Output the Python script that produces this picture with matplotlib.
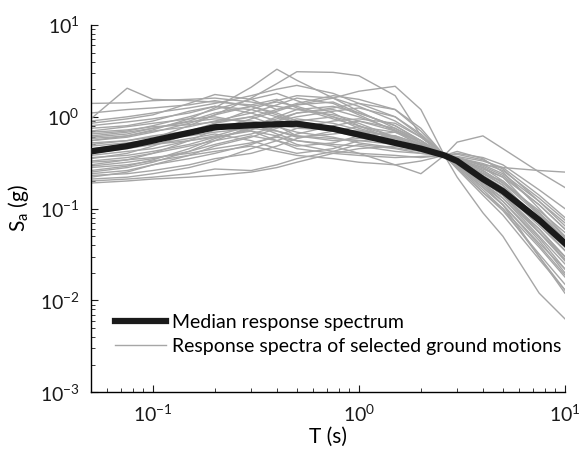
"""
    plot.py
    Response spectra of selected ground motions with their median,
    drawn on log-log axes.
"""

import numpy as np
import matplotlib
matplotlib.use("Agg")
import matplotlib.pyplot as plt

# Periods (s) where every spectrum has a vertex.
periods = [0.05, 0.075, 0.1, 0.15, 0.2, 0.3, 0.4, 0.5, 0.75, 1.0,
           1.5, 2.0, 2.6, 3.0, 4.0, 5.0, 7.5, 10.0]

# Median spectrum, Sa (g).
median_sa = [0.42, 0.48, 0.55, 0.67, 0.77, 0.81, 0.83, 0.84, 0.74, 0.64,
             0.52, 0.45, 0.38, 0.33, 0.21, 0.155, 0.075, 0.042]

# Spectra of the selected ground motions, Sa (g), one row per record.
record_sa = [
    [1.40, 1.42, 1.50, 1.55, 1.60, 1.45, 1.30, 1.20, 1.05, 0.90, 0.70, 0.52, 0.38, 0.30, 0.19, 0.13, 0.055, 0.028],
    [0.95, 2.05, 1.55, 1.50, 1.45, 1.35, 1.55, 1.25, 0.95, 0.80, 0.60, 0.47, 0.38, 0.34, 0.26, 0.19, 0.095, 0.055],
    [0.55, 0.62, 0.72, 0.95, 1.25, 2.10, 3.30, 2.50, 1.60, 1.15, 0.75, 0.52, 0.38, 0.31, 0.19, 0.12, 0.048, 0.022],
    [0.42, 0.48, 0.58, 0.80, 1.05, 1.60, 2.30, 3.10, 3.05, 2.80, 1.70, 0.62, 0.38, 0.36, 0.31, 0.26, 0.13, 0.075],
    [0.30, 0.34, 0.40, 0.55, 0.72, 0.95, 1.15, 1.35, 1.60, 1.90, 2.15, 1.20, 0.38, 0.53, 0.62, 0.45, 0.25, 0.17],
    [0.85, 0.95, 1.05, 1.40, 1.75, 1.55, 1.20, 1.35, 1.45, 1.10, 0.80, 0.55, 0.38, 0.28, 0.15, 0.10, 0.030, 0.012],
    [0.19, 0.20, 0.21, 0.22, 0.23, 0.25, 0.28, 0.32, 0.40, 0.45, 0.48, 0.44, 0.38, 0.35, 0.30, 0.28, 0.26, 0.25],
    [0.20, 0.21, 0.22, 0.24, 0.27, 0.26, 0.30, 0.35, 0.42, 0.50, 0.45, 0.40, 0.38, 0.32, 0.20, 0.14, 0.055, 0.030],
    [0.22, 0.25, 0.30, 0.38, 0.48, 0.60, 0.75, 0.90, 1.00, 0.85, 0.60, 0.45, 0.38, 0.31, 0.18, 0.11, 0.030, 0.013],
    [0.25, 0.28, 0.32, 0.42, 0.55, 0.78, 1.00, 1.20, 1.30, 1.10, 0.80, 0.55, 0.38, 0.22, 0.09, 0.05, 0.012, 0.0063],
    [0.60, 0.65, 0.75, 0.90, 1.10, 1.30, 1.10, 0.90, 0.75, 0.65, 0.55, 0.45, 0.38, 0.32, 0.22, 0.16, 0.070, 0.035],
    [0.70, 0.78, 0.85, 0.95, 1.00, 0.85, 0.65, 0.55, 0.50, 0.48, 0.42, 0.40, 0.38, 0.34, 0.27, 0.22, 0.11, 0.060],
    [0.35, 0.40, 0.48, 0.65, 0.85, 1.20, 1.50, 1.70, 1.60, 1.30, 0.90, 0.60, 0.38, 0.29, 0.16, 0.10, 0.038, 0.018],
    [0.50, 0.55, 0.62, 0.70, 0.78, 0.70, 0.55, 0.45, 0.40, 0.38, 0.36, 0.37, 0.38, 0.36, 0.30, 0.24, 0.12, 0.070],
    [0.28, 0.30, 0.33, 0.38, 0.42, 0.48, 0.42, 0.38, 0.35, 0.32, 0.30, 0.33, 0.38, 0.40, 0.36, 0.30, 0.16, 0.10],
    [0.45, 0.50, 0.55, 0.70, 0.85, 1.00, 0.80, 0.62, 0.55, 0.58, 0.62, 0.50, 0.38, 0.33, 0.24, 0.20, 0.090, 0.045],
    [0.65, 0.70, 0.80, 1.00, 1.20, 1.55, 1.80, 1.50, 1.10, 0.80, 0.55, 0.42, 0.38, 0.32, 0.21, 0.14, 0.060, 0.030],
    [0.38, 0.42, 0.45, 0.55, 0.62, 0.80, 0.95, 1.10, 1.25, 1.40, 1.20, 0.70, 0.38, 0.34, 0.28, 0.22, 0.085, 0.040],
    [0.32, 0.34, 0.36, 0.40, 0.45, 0.52, 0.60, 0.55, 0.48, 0.40, 0.30, 0.24, 0.38, 0.42, 0.35, 0.25, 0.10, 0.050],
    [0.55, 0.60, 0.68, 0.85, 1.05, 1.30, 1.45, 1.30, 1.00, 0.75, 0.58, 0.48, 0.38, 0.30, 0.18, 0.12, 0.045, 0.020],
    [0.80, 0.88, 0.95, 1.10, 1.30, 1.20, 1.00, 0.85, 0.70, 0.60, 0.50, 0.45, 0.38, 0.33, 0.25, 0.18, 0.075, 0.040],
    [0.40, 0.45, 0.50, 0.58, 0.65, 0.55, 0.45, 0.40, 0.45, 0.55, 0.58, 0.48, 0.38, 0.31, 0.20, 0.15, 0.065, 0.035],
    [0.26, 0.29, 0.34, 0.45, 0.58, 0.75, 0.70, 0.60, 0.65, 0.70, 0.55, 0.45, 0.38, 0.35, 0.28, 0.20, 0.090, 0.050],
    [0.58, 0.62, 0.70, 0.78, 0.90, 1.10, 1.35, 1.60, 1.40, 1.05, 0.70, 0.48, 0.38, 0.29, 0.17, 0.11, 0.042, 0.022],
    [0.21, 0.22, 0.24, 0.28, 0.33, 0.45, 0.55, 0.65, 0.80, 0.90, 0.75, 0.55, 0.38, 0.30, 0.20, 0.14, 0.060, 0.030],
    [0.48, 0.52, 0.56, 0.62, 0.68, 0.75, 0.85, 0.95, 0.85, 0.72, 0.60, 0.48, 0.38, 0.33, 0.23, 0.17, 0.080, 0.045],
    [0.33, 0.36, 0.40, 0.48, 0.55, 0.65, 0.78, 0.68, 0.60, 0.52, 0.46, 0.42, 0.38, 0.34, 0.26, 0.19, 0.085, 0.048],
    [0.90, 1.00, 1.10, 1.25, 1.40, 1.70, 2.00, 2.20, 1.80, 1.40, 1.00, 0.65, 0.38, 0.27, 0.14, 0.085, 0.028, 0.013],
    [0.24, 0.26, 0.30, 0.35, 0.40, 0.50, 0.62, 0.75, 0.90, 0.95, 0.85, 0.60, 0.38, 0.37, 0.33, 0.28, 0.14, 0.080],
    [0.36, 0.38, 0.42, 0.50, 0.60, 0.70, 0.62, 0.50, 0.42, 0.40, 0.38, 0.36, 0.38, 0.39, 0.34, 0.27, 0.12, 0.065],
    [0.62, 0.68, 0.75, 0.88, 0.95, 0.90, 0.82, 0.75, 0.72, 0.70, 0.62, 0.50, 0.38, 0.30, 0.19, 0.13, 0.050, 0.025],
    [0.44, 0.46, 0.50, 0.55, 0.60, 0.72, 0.90, 1.10, 1.20, 1.00, 0.72, 0.52, 0.38, 0.31, 0.22, 0.16, 0.070, 0.038],
    [0.29, 0.32, 0.35, 0.42, 0.50, 0.62, 0.55, 0.48, 0.52, 0.62, 0.68, 0.55, 0.38, 0.32, 0.21, 0.15, 0.055, 0.028],
    [0.75, 0.80, 0.90, 1.15, 1.30, 1.10, 0.90, 1.00, 1.15, 1.25, 1.00, 0.62, 0.38, 0.30, 0.17, 0.11, 0.040, 0.019],
    [0.52, 0.55, 0.60, 0.65, 0.72, 0.82, 0.70, 0.62, 0.58, 0.55, 0.50, 0.42, 0.38, 0.36, 0.29, 0.23, 0.11, 0.060],
    [1.10, 1.20, 1.25, 1.35, 1.50, 1.30, 1.05, 0.85, 0.75, 0.68, 0.55, 0.45, 0.38, 0.31, 0.20, 0.14, 0.055, 0.027],
    [0.23, 0.24, 0.26, 0.30, 0.35, 0.40, 0.48, 0.58, 0.70, 0.78, 0.68, 0.50, 0.38, 0.33, 0.24, 0.18, 0.075, 0.042],
    [0.68, 0.72, 0.78, 0.82, 0.88, 1.00, 1.20, 1.40, 1.70, 1.55, 1.20, 0.75, 0.38, 0.28, 0.15, 0.095, 0.032, 0.015],
]

legend_labels = ["Median response spectrum",
                 "Response spectra of selected ground motions"]


def main():
    plt.rcParams["font.family"] = ["Lato", "DejaVu Sans"]
    plt.rcParams["mathtext.default"] = "regular"

    fig = plt.figure(figsize=(5.86, 4.55), dpi=100)
    ax = fig.add_axes([0.155, 0.138, 0.809, 0.807])

    # Grey spectra first, so the median sits on top.
    for i, row in enumerate(record_sa):
        ax.plot(periods, row, color="#a6a6a6", lw=1.0,
                label=legend_labels[1] if i == 0 else None, zorder=2)

    ax.plot(periods, median_sa, color="#1a1a1a", lw=4.5,
            label=legend_labels[0], zorder=3, solid_joinstyle="round")

    ax.set_xscale("log")
    ax.set_yscale("log")
    ax.set_xlim(0.05, 10)
    ax.set_ylim(1e-3, 10)

    ax.spines["top"].set_visible(False)
    ax.spines["right"].set_visible(False)
    ax.spines["left"].set_linewidth(1.0)
    ax.spines["bottom"].set_linewidth(1.0)

    ax.tick_params(which="both", direction="in", labelsize=14, colors="#1a1a1a")
    ax.tick_params(which="major", length=5, pad=8)
    ax.tick_params(which="minor", length=3)

    ax.set_xlabel("T (s)", fontsize=15, labelpad=2)
    ax.set_ylabel("S$_a$ (g)", fontsize=15, labelpad=6)

    handles, labels = ax.get_legend_handles_labels()
    order = [labels.index(legend_labels[0]), labels.index(legend_labels[1])]
    ax.legend([handles[k] for k in order], [labels[k] for k in order],
              loc="lower left", bbox_to_anchor=(0.035, 0.08), frameon=False,
              fontsize=14, handlelength=2.6, handletextpad=0.3,
              labelspacing=0.35, borderaxespad=0)

    fig.savefig("out.png", dpi=100)


if __name__ == "__main__":
    main()
